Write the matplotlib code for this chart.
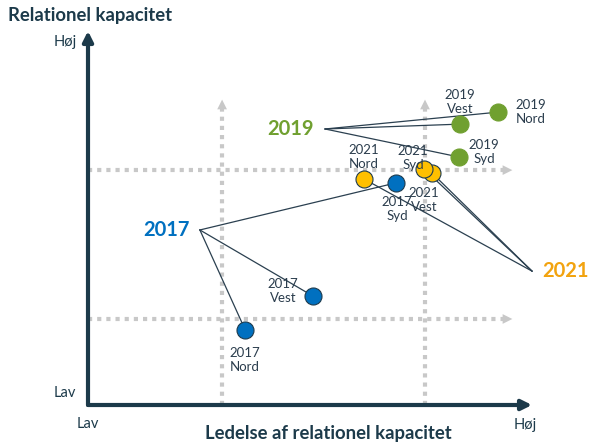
import matplotlib
matplotlib.use("Agg")
import matplotlib.pyplot as plt

plt.rcParams['font.family'] = ['Lato', 'DejaVu Sans']

# Data (0-10 scale on both axes)
years = ["2017", "2019", "2021"]
regions = ["Nord", "Vest", "Syd"]
x_2017 = [3.54, 5.07, 6.94]
y_2017 = [2.01, 2.91, 5.94]
x_2019 = [9.23, 8.38, 8.36]
y_2019 = [7.83, 7.51, 6.63]
x_2021 = [6.22, 7.75, 7.57]
y_2021 = [6.04, 6.20, 6.31]
# leader-line hubs for year labels
hub_x = [2.52, 5.34, 10.0]
hub_y = [4.68, 7.38, 3.58]
# quadrant guide lines
guide_x = [3.02, 7.59]
guide_y = [2.30, 6.28]

colors = ["#0070c0", "#70a030", "#ffc000"]
year_text_colors = ["#0070c0", "#70a030", "#f2a30f"]
navy = "#1c3a4a"
label_col = "#2b3d4d"
guide_col = "#c8c8c8"

# label offsets in pixels (dx, dy) per point
offsets = {
    ("2017", "Nord"): (0, -30), ("2017", "Vest"): (-30, 5), ("2017", "Syd"): (1, -26),
    ("2019", "Nord"): (33, 0), ("2019", "Vest"): (0, 22), ("2019", "Syd"): (25, 5),
    ("2021", "Nord"): (0, 22), ("2021", "Vest"): (-8, -27), ("2021", "Syd"): (-11, 11),
}

fig = plt.figure(figsize=(5.98, 4.46), dpi=100)
ax = fig.add_axes([88/598, 41/446, 444/598, 374/446])
ax.set_xlim(0, 10)
ax.set_ylim(0, 10)
ax.axis('off')

# guides
gtop = 8.24
gright = 9.62
for gx in guide_x:
    ax.plot([gx, gx], [0, gtop - 0.25], color=guide_col, lw=3, ls=(0, (1, 1.2)), zorder=1, clip_on=False)
    ax.annotate("", xy=(gx, gtop), xytext=(gx, gtop - 0.3),
                arrowprops=dict(arrowstyle="-|>,head_length=0.7,head_width=0.35", color=guide_col, lw=0),
                zorder=1, annotation_clip=False)
for gy in guide_y:
    ax.plot([0, gright - 0.25], [gy, gy], color=guide_col, lw=3, ls=(0, (1, 1.2)), zorder=1, clip_on=False)
    ax.annotate("", xy=(gright, gy), xytext=(gright - 0.3, gy),
                arrowprops=dict(arrowstyle="-|>,head_length=0.7,head_width=0.35", color=guide_col, lw=0),
                zorder=1, annotation_clip=False)

# main axes
ax.annotate("", xy=(0, 10), xytext=(0, 0),
            arrowprops=dict(arrowstyle="-|>,head_length=0.6,head_width=0.3", color=navy, lw=3,
                            shrinkA=0, shrinkB=0), annotation_clip=False, zorder=2)
ax.annotate("", xy=(10, 0), xytext=(0, 0),
            arrowprops=dict(arrowstyle="-|>,head_length=0.6,head_width=0.3", color=navy, lw=3,
                            shrinkA=0, shrinkB=0), annotation_clip=False, zorder=2)

all_x = [x_2017, x_2019, x_2021]
all_y = [y_2017, y_2019, y_2021]
for i, yr in enumerate(years):
    for j, rg in enumerate(regions):
        px, py = all_x[i][j], all_y[i][j]
        ax.plot([hub_x[i], px], [hub_y[i], py], color="#2b4050", lw=0.9, zorder=3, clip_on=False)
        edge = "#1f3b4d" if i != 1 else colors[i]
        ax.scatter([px], [py], s=150, color=colors[i], edgecolor=edge, linewidth=0.8, zorder=4, clip_on=False)
        dx, dy = offsets[(yr, rg)]
        ax.annotate(f"{yr}\n{rg}", xy=(px, py), xytext=(dx, dy), textcoords="offset pixels",
                    ha="center", va="center", fontsize=9.5, color=label_col, linespacing=1.25, zorder=5)

# year labels
ax.annotate(years[0], xy=(hub_x[0], hub_y[0]), xytext=(-10, 0), textcoords="offset pixels",
            ha="right", va="center", fontsize=14.5, fontweight="bold", color=year_text_colors[0])
ax.annotate(years[1], xy=(hub_x[1], hub_y[1]), xytext=(-11, 0), textcoords="offset pixels",
            ha="right", va="center", fontsize=14.5, fontweight="bold", color=year_text_colors[1])
ax.annotate(years[2], xy=(hub_x[2], hub_y[2]), xytext=(10, 0), textcoords="offset pixels",
            ha="left", va="center", fontsize=14.5, fontweight="bold", color=year_text_colors[2],
            annotation_clip=False)

# axis texts
fig.text(8/598, 1 - 15/446, "Relationel kapacitet", ha="left", va="center",
         fontsize=13.3, fontweight="bold", color=navy)
fig.text(328/598, 1 - 433/446, "Ledelse af relationel kapacitet", ha="center", va="center",
         fontsize=13.3, fontweight="bold", color=navy)
fig.text(65/598, 1 - 42/446, "Høj", ha="center", va="center", fontsize=10.5, color=navy)
fig.text(65/598, 1 - 393/446, "Lav", ha="center", va="center", fontsize=10.5, color=navy)
fig.text(88/598, 1 - 424/446, "Lav", ha="center", va="center", fontsize=10.5, color=navy)
fig.text(525/598, 1 - 425/446, "Høj", ha="center", va="center", fontsize=10.5, color=navy)

fig.savefig("out.png", dpi=100, facecolor="white")
